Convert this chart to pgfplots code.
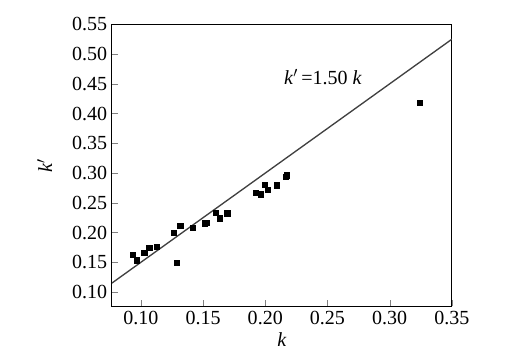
\documentclass[border=0pt]{standalone}
\usepackage{fontspec}
\setmainfont{Liberation Serif}
\usepackage{pgfplots}
\pgfplotsset{compat=1.18}
\begin{document}
\begin{tikzpicture}
\begin{axis}[
  scale only axis,
  width=255pt, height=211.5pt,
  xmin=0.0767, xmax=0.35, ymin=0.076, ymax=0.55,
  xtick={0.10,0.15,...,0.35}, ytick={0.10,0.15,...,0.55},
  tick pos=left, tick align=inside,
  major tick length=5pt,
  /pgf/number format/assume math mode=true,
  /pgf/number format/fixed, /pgf/number format/fixed zerofill, /pgf/number format/precision=2,
  tick label style={font=\rmfamily\fontsize{15}{18}\selectfont},
  label style={font=\rmfamily\fontsize{15}{18}\selectfont},
  xlabel={\textit{k}}, ylabel={\textit{k}$'$},
  xlabel style={yshift=1pt},
  ylabel style={yshift=8pt},
  axis line style={black, line width=0.8pt},
]
\addplot[domain=0.0767:0.35, samples=2, color=black!75, line width=1pt] {1.5*x};
\addplot[only marks, mark=square*, mark size=2pt, black] coordinates {
(0.0936,0.163) (0.0968,0.1533) (0.1027,0.1662) (0.1067,0.1746) (0.1126,0.1758)
(0.1265,0.1993) (0.1287,0.1488) (0.1316,0.2117) (0.1416,0.2083) (0.1515,0.2156)
(0.1525,0.2167) (0.1603,0.233) (0.1635,0.224) (0.1694,0.2324) (0.1922,0.2667)
(0.1962,0.2644) (0.1995,0.2807) (0.2021,0.2717) (0.2094,0.2796) (0.2166,0.2936)
(0.2172,0.2964) (0.3241,0.4176)
};
\node[anchor=west, font=\rmfamily\fontsize{15}{18}\selectfont, inner sep=0pt] at (axis cs:0.215,0.461) {\textit{k}$'$\,=1.50 \textit{k}};
\end{axis}
\path (current axis.south west) ++(-83.8pt,-40.5pt) coordinate (bl);
\path (current axis.north east) ++(56.25pt,18.2pt) coordinate (tr);
\path (bl) rectangle (tr);
\end{tikzpicture}
\end{document}
